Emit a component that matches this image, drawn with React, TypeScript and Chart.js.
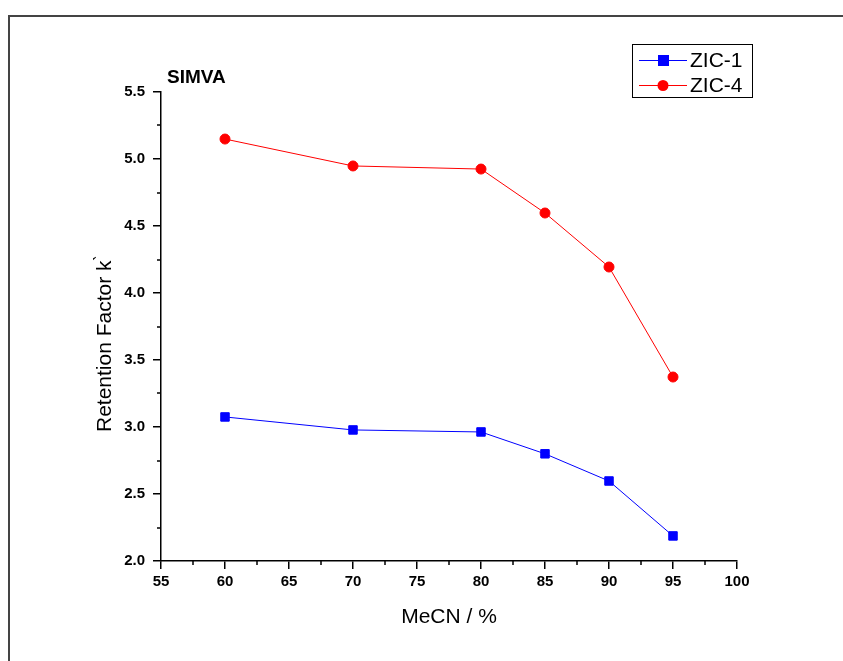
import React, { useEffect, useRef } from "react";
import { Chart, registerables } from "chart.js";

Chart.register(...registerables);

const xValues = [60, 70, 80, 85, 90, 95];
const zic1 = [3.075, 2.978, 2.963, 2.8, 2.597, 2.187];
const zic4 = [5.149, 4.948, 4.925, 4.597, 4.194, 3.373];
const seriesNames = ["ZIC-1", "ZIC-4"];
const seriesColors = ["#0000ff", "#ff0000"];
const chartTitle = "SIMVA";
const xTitle = "MeCN / %";
const yTitle = "Retention Factor k";
const yTitleMark = "\u2035";
const xMinorTicks = [57.5, 62.5, 67.5, 72.5, 77.5, 82.5, 87.5, 92.5, 97.5];
const yMinorTicks = [2.25, 2.75, 3.25, 3.75, 4.25, 4.75, 5.25];

const FONT = 'Arial, "Liberation Sans", Helvetica, sans-serif';

const decorPlugin = {
  id: "decor",
  afterDraw(chart: any) {
    const ctx = chart.ctx;
    const xs = chart.scales.x;
    const ys = chart.scales.y;
    const area = chart.chartArea;
    ctx.save();
    // outer frame (top and left)
    ctx.strokeStyle = "#444";
    ctx.lineWidth = 2;
    ctx.beginPath();
    ctx.moveTo(843, 16);
    ctx.lineTo(9, 16);
    ctx.lineTo(9, 661);
    ctx.stroke();

    // minor ticks
    ctx.strokeStyle = "#000";
    ctx.lineWidth = 1.5;
    ctx.beginPath();
    xMinorTicks.forEach((v) => {
      const px = Math.round(xs.getPixelForValue(v));
      ctx.moveTo(px, area.bottom);
      ctx.lineTo(px, area.bottom + 4);
    });
    yMinorTicks.forEach((v) => {
      const py = Math.round(ys.getPixelForValue(v));
      ctx.moveTo(area.left, py);
      ctx.lineTo(area.left - 4, py);
    });
    ctx.stroke();

    // title
    ctx.fillStyle = "#000";
    ctx.font = `bold 19px ${FONT}`;
    ctx.textAlign = "left";
    ctx.textBaseline = "alphabetic";
    ctx.fillText(chartTitle, area.left + 6, 83);

    // x title
    ctx.font = `21px ${FONT}`;
    ctx.textAlign = "center";
    ctx.fillText(xTitle, (area.left + area.right) / 2, 623);

    // y title
    ctx.save();
    ctx.translate(111, 432);
    ctx.rotate(-Math.PI / 2);
    ctx.textAlign = "left";
    ctx.font = `21px ${FONT}`;
    ctx.fillText(yTitle, 0, 0);
    const w = ctx.measureText(yTitle).width;
    ctx.font = `18px "DejaVu Sans", ${FONT}`;
    ctx.fillText(yTitleMark, w, -5);
    ctx.restore();

    // legend
    ctx.strokeStyle = "#000";
    ctx.lineWidth = 1;
    ctx.strokeRect(632.5, 44.5, 120, 53);
    const rows = [60, 85];
    chart.data.datasets.forEach((ds: any, i: number) => {
      const y = rows[i];
      ctx.strokeStyle = ds.borderColor;
      ctx.lineWidth = 1;
      ctx.beginPath();
      ctx.moveTo(639, y + 0.5);
      ctx.lineTo(687, y + 0.5);
      ctx.stroke();
      ctx.fillStyle = ds.backgroundColor;
      if (ds.pointStyle === "rect") {
        ctx.fillRect(658, y - 5, 11, 11);
      } else {
        ctx.beginPath();
        ctx.arc(663, y + 0.5, 5.5, 0, Math.PI * 2);
        ctx.fill();
      }
      ctx.fillStyle = "#000";
      ctx.font = `21px ${FONT}`;
      ctx.textAlign = "left";
      ctx.textBaseline = "middle";
      ctx.fillText(ds.label, 690, y + 1);
    });
    ctx.restore();
  },
};

export default function App() {
  const ref = useRef<HTMLCanvasElement>(null);
  useEffect(() => {
    if (!ref.current) return;
    const chart = new Chart(ref.current, {
      type: "line",
      data: {
        datasets: [
          {
            label: seriesNames[0],
            data: xValues.map((x, i) => ({ x, y: zic1[i] })),
            borderColor: seriesColors[0],
            backgroundColor: seriesColors[0],
            borderWidth: 1,
            pointStyle: "rect",
            pointRadius: 6,
            pointBorderWidth: 1,
          },
          {
            label: seriesNames[1],
            data: xValues.map((x, i) => ({ x, y: zic4[i] })),
            borderColor: seriesColors[1],
            backgroundColor: seriesColors[1],
            borderWidth: 1,
            pointStyle: "circle",
            pointRadius: 5,
            pointBorderWidth: 1,
          },
        ],
      },
      options: {
        animation: false,
        responsive: false,
        layout: { padding: { left: 0, top: 92, right: 106, bottom: 0 } },
        plugins: {
          legend: { display: false },
          tooltip: { enabled: false },
          title: { display: false },
        },
        scales: {
          x: {
            type: "linear",
            min: 55,
            max: 100,
            afterFit: (s: any) => {
              s.height = 100;
            },
            border: { display: true, color: "#000", width: 1.5 },
            grid: {
              display: true,
              drawOnChartArea: false,
              drawTicks: true,
              tickLength: 8,
              color: "#000",
              lineWidth: 1.5,
            },
            ticks: {
              stepSize: 5,
              color: "#000",
              font: { family: FONT, size: 15, weight: "bold" },
              padding: 4,
              maxRotation: 0,
            },
          },
          y: {
            type: "linear",
            min: 2.0,
            max: 5.5,
            afterFit: (s: any) => {
              s.width = 161;
            },
            border: { display: true, color: "#000", width: 1.5 },
            grid: {
              display: true,
              drawOnChartArea: false,
              drawTicks: true,
              tickLength: 8,
              color: "#000",
              lineWidth: 1.5,
            },
            ticks: {
              stepSize: 0.5,
              color: "#000",
              font: { family: FONT, size: 15, weight: "bold" },
              padding: 8,
              callback: (v: any) => Number(v).toFixed(1),
            },
          },
        },
      },
      plugins: [decorPlugin],
    });
    return () => chart.destroy();
  }, []);
  return (
    <div
      style={{
        position: "absolute",
        left: 0,
        top: 0,
        width: 843,
        height: 661,
        background: "#fff",
      }}
    >
      <canvas ref={ref} width={843} height={661} />
    </div>
  );
}
